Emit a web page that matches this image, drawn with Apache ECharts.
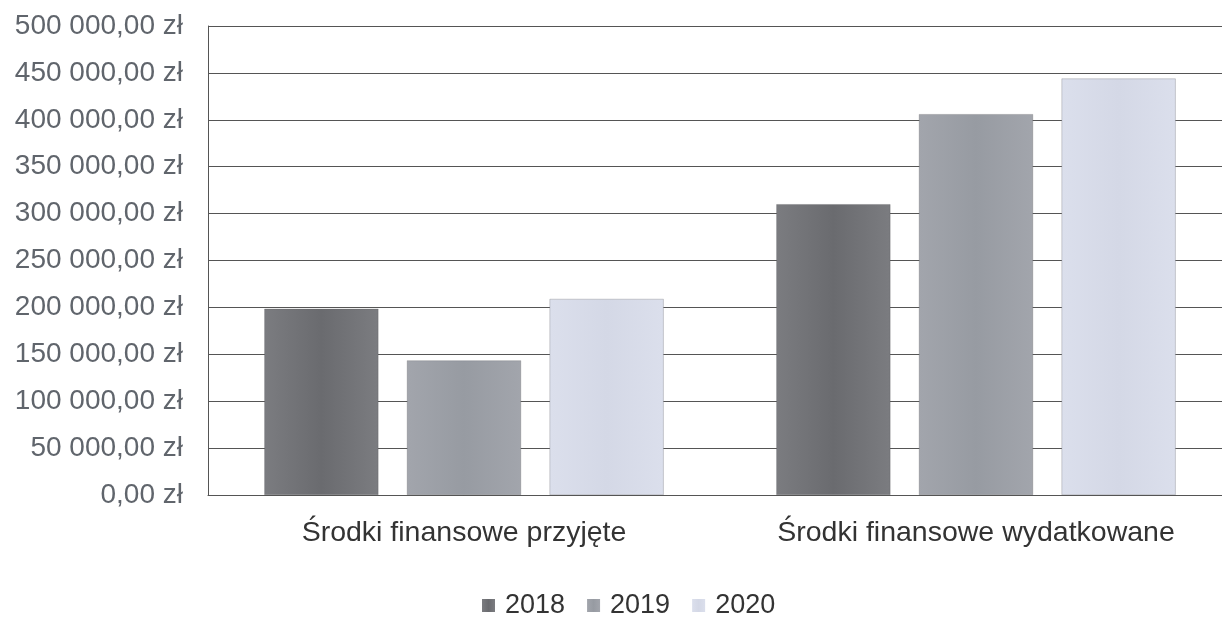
<!DOCTYPE html>
<html><head><meta charset="utf-8">
<script src="https://cdn.jsdelivr.net/npm/echarts@6/dist/echarts.min.js"></script>
<style>html,body{margin:0;padding:0;background:#fff;overflow:hidden;width:1222px;height:617px}#c{width:1240px;height:617px}</style>
</head><body><div id="c"></div>
<script>
const categories = ['Środki finansowe przyjęte', 'Środki finansowe wydatkowane'];
const years = ['2018', '2019', '2020'];
const values2018 = [198500, 310000];
const values2019 = [143500, 406000];
const values2020 = [209000, 444000];

function fmt(v) {
  const s = Math.round(v).toString().replace(/\B(?=(\d{3})+(?!\d))/g, ' ');
  return s + ',00 zł';
}
function grad(edge, mid) {
  return new echarts.graphic.LinearGradient(0, 0, 1, 0, [
    {offset: 0, color: edge}, {offset: 0.5, color: mid}, {offset: 1, color: edge}
  ]);
}
const barColors = [grad('#7b7c80', '#6a6b6f'), grad('#a2a5ac', '#979ba2'), grad('#dbdfec', '#d4d8e6')];
const legendColors = ['#6f7074', '#9c9fa6', '#d6dae7'];
const seriesData = [values2018, values2019, values2020];
const chart = echarts.init(document.getElementById('c'), null, {renderer: 'canvas'});
chart.setOption({
  backgroundColor: '#fff',
  animation: false,
  color: legendColors,
  grid: {left: 208, right: 8, top: 26, bottom: 122, containLabel: false},
  legend: {
    bottom: -7, left: 477,
    itemWidth: 13, itemHeight: 13, itemGap: 22,
    icon: 'rect',
    itemStyle: {borderWidth: 0},
    textStyle: {fontFamily: 'Liberation Sans', fontSize: 27, color: '#333', padding: [0,0,0,5]},
    data: years
  },
  xAxis: {
    type: 'category', data: categories,
    axisLine: {lineStyle: {color: '#555', width: 1}},
    axisTick: {show: false},
    axisLabel: {fontFamily: 'Liberation Sans', fontSize: 28.5, color: '#333', margin: 24, interval: 0, hideOverlap: false}
  },
  yAxis: {
    type: 'value', min: 0, max: 500000, interval: 50000,
    axisLine: {show: true, lineStyle: {color: '#555', width: 1}},
    axisTick: {show: false},
    splitLine: {lineStyle: {color: '#555', width: 1}},
    axisLabel: {fontFamily: 'Liberation Sans', fontSize: 28, color: '#60656c', margin: 25, formatter: fmt}
  },
  series: years.map((y, i) => ({
    name: y, type: 'bar', data: seriesData[i],
    barGap: '25%', barCategoryGap: '22%',
    itemStyle: {color: barColors[i], borderColor: 'rgba(80,80,85,0.5)', borderWidth: 0.5}
  }))
});
</script></body></html>
